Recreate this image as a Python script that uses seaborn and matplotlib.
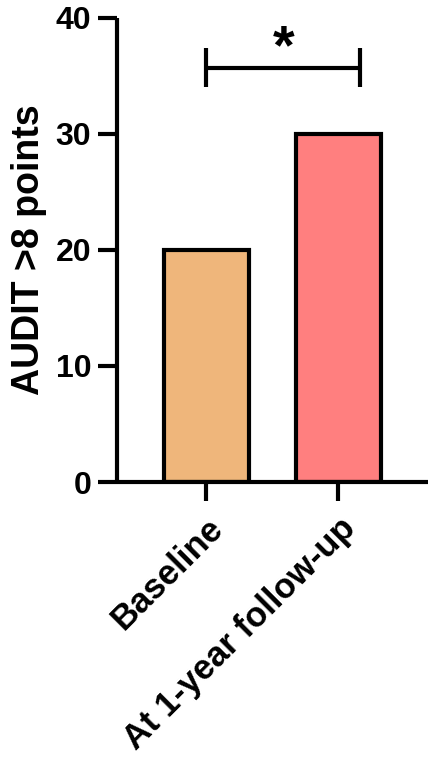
import matplotlib
matplotlib.use("Agg")
import matplotlib.pyplot as plt
import matplotlib.transforms as mtransforms
import seaborn as sns
import pandas as pd

categories = ["Baseline", "At 1-year follow-up"]
values = [20, 30]
colors = ["#EFB67B", "#FF7F7F"]
yticks = [0, 10, 20, 30, 40]
ylabel = "AUDIT >8 points"
sig_label = "*"

sns.set_theme(style="white")
plt.rcParams['font.family'] = ['Liberation Sans', 'DejaVu Sans']
plt.rcParams['font.weight'] = 'bold'

df = pd.DataFrame({"group": categories, "value": values})

fig = plt.figure(figsize=(4.32, 7.61), dpi=100)
ax = fig.add_axes([0.271, 0.3666, 0.72, 0.61])

sns.barplot(data=df, x="group", y="value", hue="group", palette=colors,
            width=0.645, edgecolor="black", linewidth=3, legend=False, ax=ax,
            saturation=1)

ax.set_xlim(-0.674, 1.68)
ax.set_ylim(0, 40)
ax.set_yticks(yticks)
ax.set_yticklabels([str(t) for t in yticks], fontsize=23, fontweight='bold', color='black')
ax.set_xticks(range(len(categories)))
ax.set_xticklabels(categories, rotation=45, ha='right', rotation_mode='anchor',
                   fontsize=25, fontweight='bold', color='black')
offset = mtransforms.ScaledTranslation(-5 / 100, 0, fig.dpi_scale_trans)
for lab in ax.get_xticklabels():
    lab.set_transform(lab.get_transform() + offset)
ax.set_xlabel("")
ax.set_ylabel(ylabel, fontsize=27, fontweight='bold', color='black', labelpad=6)

for s in ['top', 'right']:
    ax.spines[s].set_visible(False)
for s in ['left', 'bottom']:
    ax.spines[s].set_linewidth(3)
    ax.spines[s].set_color('black')
    ax.spines[s].set_capstyle('butt')
ax.tick_params(axis='both', length=13.5, width=3, color='black', direction='out',
               labelcolor='black', bottom=True, left=True)
ax.tick_params(axis='y', pad=5)
ax.tick_params(axis='x', pad=8)

# significance bracket
top = max(values)
by = top + 5.7
h = 1.7
x1, x2 = 0, 1.167
ax.plot([x1, x2], [by, by], color='black', lw=3, clip_on=False, solid_capstyle='butt')
ax.plot([x1, x1], [by - h, by + h], color='black', lw=3, clip_on=False, solid_capstyle='butt')
ax.plot([x2, x2], [by - h, by + h], color='black', lw=3, clip_on=False, solid_capstyle='butt')
ax.text((x1 + x2) / 2, by + 1.6, sig_label, ha='center', va='center',
        fontsize=40, fontweight='bold', color='black')

fig.savefig("out.png", dpi=100)
